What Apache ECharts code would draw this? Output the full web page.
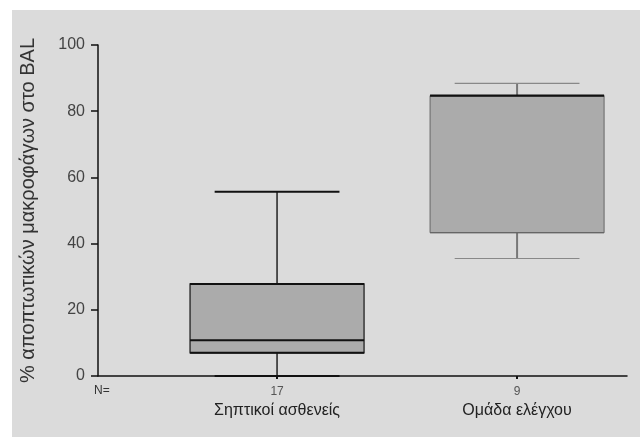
<!DOCTYPE html>
<html><head><meta charset="utf-8">
<script src="https://cdn.jsdelivr.net/npm/echarts@6/dist/echarts.min.js"></script>
<style>html,body{margin:0;padding:0;background:#fff}#c{width:640px;height:437px}</style>
</head><body><div id="c"></div>
<script>
const categories = ['Σηπτικοί ασθενείς', 'Ομάδα ελέγχου'];
const nCounts = [17, 9];
const positions = [1, 2];
const lowWhisker = [0, 35.5];
const q1 = [7, 43.3];
const median = [10.8, 84.7];
const q3 = [27.8, 84.7];
const highWhisker = [55.7, 88.4];
const yTicks = [0, 20, 40, 60, 80, 100];

const data = positions.map((p, i) => [p, lowWhisker[i], q1[i], median[i], q3[i], highWhisker[i]]);

const chart = echarts.init(document.getElementById('c'), null, {renderer: 'canvas'});
const FONT = 'Liberation Sans';
const styles = [
  {box: '#222', boxW: 1.3, whisk: '#222', whiskW: 1.5, cap: '#111', capW: 2, med: '#111', medW: 2.2, edge: '#111', edgeW: 2},
  {box: '#666', boxW: 1, whisk: '#777', whiskW: 2, cap: '#888', capW: 1.2, med: '#111', medW: 2.2, edge: '#666', edgeW: 1.2}
];

chart.setOption({
  animation: false,
  backgroundColor: '#ffffff',
  graphic: [
    {type: 'rect', z: -10, silent: true, shape: {x: 12, y: 10, width: 640, height: 440}, style: {fill: '#dbdbdb'}},
    {type: 'text', left: 94, top: 385, style: {text: 'N=', font: '12px ' + FONT, fill: '#333'}}
  ],
  grid: {left: 98, right: 13, top: 45, bottom: 61},
  xAxis: {
    type: 'value', min: 0.254, max: 2.458,
    splitLine: {show: false},
    axisLine: {show: true, lineStyle: {color: '#111', width: 1.5}},
    axisTick: {show: true, customValues: positions, length: 3, lineStyle: {color: '#111', width: 2}},
    axisLabel: {
      customValues: positions, margin: 8,
      formatter: v => { const i = positions.indexOf(v); return i < 0 ? '' : '{n|' + nCounts[i] + '}\n{c|' + categories[i] + '}'; },
      rich: {
        n: {fontFamily: FONT, fontSize: 12, color: '#555', lineHeight: 16},
        c: {fontFamily: FONT, fontSize: 16, color: '#222', lineHeight: 21}
      }
    }
  },
  yAxis: {
    type: 'value', min: 0, max: 100, interval: 20,
    name: '% αποπτωτικών μακροφάγων στο BAL',
    nameLocation: 'middle', nameRotate: 90, nameGap: 60,
    nameTextStyle: {fontFamily: FONT, fontSize: 20, color: '#333'},
    splitLine: {show: false},
    axisLine: {show: true, lineStyle: {color: '#111', width: 1.5}},
    axisTick: {show: true, inside: false, length: 7, lineStyle: {color: '#111', width: 1.5}},
    axisLabel: {fontFamily: FONT, fontSize: 16, color: '#444', margin: 13}
  },
  series: [{
    type: 'custom',
    data: data,
    encode: {x: 0, y: [1, 2, 3, 4, 5]},
    clip: false,
    renderItem: function (params, api) {
      const i = params.dataIndex;
      const s = styles[i];
      const x = api.value(0);
      const pLow = api.coord([x, api.value(1)]);
      const pQ1 = api.coord([x, api.value(2)]);
      const pMed = api.coord([x, api.value(3)]);
      const pQ3 = api.coord([x, api.value(4)]);
      const pHigh = api.coord([x, api.value(5)]);
      const bw = api.size([0.725, 0])[0];
      const cw = api.size([0.52, 0])[0];
      const cx = pQ1[0];
      const ch = [];
      ch.push({type: 'line', shape: {x1: cx, y1: pQ3[1], x2: cx, y2: pHigh[1]}, style: {stroke: s.whisk, lineWidth: s.whiskW}});
      ch.push({type: 'line', shape: {x1: cx, y1: pQ1[1], x2: cx, y2: pLow[1]}, style: {stroke: s.whisk, lineWidth: s.whiskW}});
      ch.push({type: 'line', shape: {x1: cx - cw / 2, y1: pHigh[1], x2: cx + cw / 2, y2: pHigh[1]}, style: {stroke: s.cap, lineWidth: s.capW}});
      ch.push({type: 'line', shape: {x1: cx - cw / 2, y1: pLow[1], x2: cx + cw / 2, y2: pLow[1]}, style: {stroke: s.cap, lineWidth: s.capW}});
      ch.push({type: 'rect', shape: {x: cx - bw / 2, y: pQ3[1], width: bw, height: pQ1[1] - pQ3[1]}, style: {fill: '#ababab', stroke: s.box, lineWidth: s.boxW}});
      ch.push({type: 'line', shape: {x1: cx - bw / 2, y1: pQ3[1], x2: cx + bw / 2, y2: pQ3[1]}, style: {stroke: s.edge, lineWidth: s.edgeW}});
      ch.push({type: 'line', shape: {x1: cx - bw / 2, y1: pQ1[1], x2: cx + bw / 2, y2: pQ1[1]}, style: {stroke: s.edge, lineWidth: s.edgeW}});
      ch.push({type: 'line', shape: {x1: cx - bw / 2, y1: pMed[1], x2: cx + bw / 2, y2: pMed[1]}, style: {stroke: s.med, lineWidth: s.medW}});
      return {type: 'group', children: ch};
    }
  }]
});
</script>
</body></html>
